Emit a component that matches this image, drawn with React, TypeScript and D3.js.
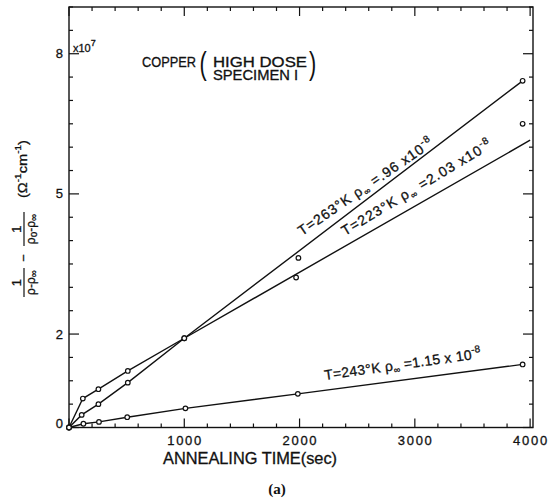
import React from 'react';
import * as d3 from 'd3';

// Annealing of copper, high dose specimen I: 1/(rho-rho_inf) - 1/(rho0-rho_inf) vs time
const times263 = [0, 110, 255, 510, 1000, 1990, 3935];
const values263 = [0, 0.27, 0.5, 0.96, 1.91, 3.63, 7.42];
const fitTimes263 = [0, 110, 255, 510, 1000, 3935];
const fitValues263 = [0, 0.27, 0.5, 0.96, 1.91, 7.42];

const times223 = [0, 120, 255, 510, 1000, 1970, 3935];
const values223 = [0, 0.62, 0.82, 1.21, 1.91, 3.21, 6.5];
const fitTimes223 = [0, 120, 255, 510, 1000, 4000];
const fitValues223 = [0, 0.62, 0.82, 1.21, 1.91, 6.15];

const times243 = [0, 125, 260, 505, 1010, 1985, 3935];
const values243 = [0, 0.08, 0.12, 0.22, 0.41, 0.72, 1.35];

const xTickLabels = [1000, 2000, 3000, 4000];
const yTickLabels = [0, 2, 5, 8];
const yMajorTicks = [0, 2, 5, 8];

const FONT = '"Liberation Sans", Arial, sans-serif';

const x = d3.scaleLinear().domain([0, 4025]).range([69, 533]);
const y = d3.scaleLinear().domain([0, 9]).range([427.5, 7]);

const zip = (ts: number[], vs: number[]) => ts.map((t, i) => [t, vs[i]] as [number, number]);

const line = d3
  .line<[number, number]>()
  .x((d) => x(d[0]))
  .y((d) => y(d[1]));

export default function App() {
  const [x0, x1] = x.range();
  const [yb, yt] = y.range();
  const xTicks = d3.range(0, 4001, 200);
  const yTicks = d3.range(0, 9.01, 0.5);

  const series = [
    { pts: zip(times263, values263), fit: zip(fitTimes263, fitValues263) },
    { pts: zip(times223, values223), fit: zip(fitTimes223, fitValues223) },
    { pts: zip(times243, values243), fit: zip(times243, values243) },
  ];

  const ink = { fill: '#111', stroke: '#111', strokeWidth: 0.3 };

  return (
    <svg
      width={556}
      height={504}
      style={{ position: 'absolute', left: 0, top: 0, background: '#fff' }}
      fontFamily={FONT}
    >
      <rect x={0} y={0} width={556} height={504} fill="#fff" />

      {/* frame */}
      <rect x={x0} y={yt} width={x1 - x0} height={yb - yt} fill="none" stroke="#111" strokeWidth={1.4} />

      {/* x ticks, bottom and top, pointing inward */}
      {xTicks.map((t) => {
        const len = t % 1000 === 0 ? 9 : 4;
        return (
          <g key={'xt' + t} stroke="#111" strokeWidth={1.2}>
            <line x1={x(t)} x2={x(t)} y1={yb} y2={yb - len} />
            <line x1={x(t)} x2={x(t)} y1={yt} y2={yt + len} />
          </g>
        );
      })}

      {/* y ticks, left and right, pointing inward */}
      {yTicks.map((v) => {
        const len = yMajorTicks.includes(v) ? 10 : 4;
        return (
          <g key={'yt' + v} stroke="#111" strokeWidth={1.2}>
            <line x1={x0} x2={x0 + len} y1={y(v)} y2={y(v)} />
            <line x1={x1} x2={x1 - len} y1={y(v)} y2={y(v)} />
          </g>
        );
      })}

      {/* tick labels */}
      <g {...ink}>
        {xTickLabels.map((t) => (
          <text key={'xl' + t} x={x(t)} y={444.5} fontSize={13} textAnchor="middle" textLength={34} lengthAdjust="spacing">
            {t}
          </text>
        ))}
        {yTickLabels.map((v) => (
          <text key={'yl' + v} x={63} y={y(v) + (v === 0 ? 0.5 : 4.5)} fontSize={13} textAnchor="end">
            {v}
          </text>
        ))}

        {/* exponent */}
        <text x={73} y={52} fontSize={11}>
          x10
          <tspan dy={-6} fontSize={9}>7</tspan>
        </text>

        {/* x axis title */}
        <text x={163} y={464} fontSize={16} textLength={174} lengthAdjust="spacingAndGlyphs">
          ANNEALING TIME(sec)
        </text>
      </g>

      {/* y axis title */}
      <g transform="translate(24,297) rotate(-90)" {...ink}>
        <line x1={0} x2={29} y1={0} y2={0} stroke="#111" strokeWidth={1.2} />
        <text x={14.5} y={-3} fontSize={13} textAnchor="middle">1</text>
        <text x={14.5} y={10.5} fontSize={12} textAnchor="middle">
          ρ-ρ<tspan dy={2} fontSize={10}>∞</tspan>
        </text>
        <text x={39} y={4} fontSize={13} textAnchor="middle">−</text>
        <line x1={51} x2={85} y1={0} y2={0} stroke="#111" strokeWidth={1.2} />
        <text x={68} y={-3} fontSize={13} textAnchor="middle">1</text>
        <text x={68} y={10.5} fontSize={12} textAnchor="middle">
          ρ<tspan dy={2} fontSize={10}>o</tspan>
          <tspan dy={-2}>-ρ</tspan>
          <tspan dy={2} fontSize={10}>∞</tspan>
        </text>
        <text x={99} y={3} fontSize={13} textLength={58} lengthAdjust="spacingAndGlyphs">
          (Ω<tspan dy={-6} fontSize={9}>-1</tspan>
          <tspan dy={6}>cm</tspan>
          <tspan dy={-6} fontSize={9}>-1</tspan>
          <tspan dy={6}>)</tspan>
        </text>
      </g>

      {/* specimen title */}
      <g {...ink}>
        <text x={142} y={67} fontSize={15} textLength={54} lengthAdjust="spacingAndGlyphs">COPPER</text>
        <text x={0} y={0} fontSize={31} strokeWidth={0} transform="translate(199.5,74) scale(0.7,1)">(</text>
        <text x={213} y={66.5} fontSize={14} textLength={94} lengthAdjust="spacingAndGlyphs">HIGH DOSE</text>
        <text x={213} y={79.5} fontSize={14} textLength={85} lengthAdjust="spacingAndGlyphs">SPECIMEN I</text>
        <text x={0} y={0} fontSize={31} strokeWidth={0} transform="translate(309,74) scale(0.7,1)">)</text>
      </g>

      {/* curves */}
      {series.map((s, i) => (
        <path key={'c' + i} d={line(s.fit) ?? ''} fill="none" stroke="#111" strokeWidth={1.4} />
      ))}

      {/* data points */}
      {series.map((s, i) =>
        s.pts.map((p, j) => (
          <circle key={'p' + i + '-' + j} cx={x(p[0])} cy={y(p[1])} r={2.3} fill="#fff" stroke="#111" strokeWidth={1.2} />
        ))
      )}

      {/* curve labels */}
      <g {...ink}>
        <text transform="translate(302,236) rotate(-34.5)" fontSize={14} textLength={160} lengthAdjust="spacing">
          T=263°K  ρ<tspan dy={3} fontSize={9}>∞</tspan>
          <tspan dy={-3}> =.96 x10</tspan>
          <tspan dy={-6} fontSize={10}>-8</tspan>
        </text>
        <text transform="translate(345,236) rotate(-31)" fontSize={14} textLength={172} lengthAdjust="spacing">
          T=223°K  ρ<tspan dy={3} fontSize={9}>∞</tspan>
          <tspan dy={-3}> =2.03 x10</tspan>
          <tspan dy={-6} fontSize={10}>-8</tspan>
        </text>
        <text transform="translate(325,380) rotate(-8)" fontSize={14} textLength={158} lengthAdjust="spacing">
          T=243°K  ρ<tspan dy={3} fontSize={9}>∞</tspan>
          <tspan dy={-3}> =1.15 x 10</tspan>
          <tspan dy={-6} fontSize={10}>-8</tspan>
        </text>
      </g>

      {/* panel tag */}
      <text x={277} y={494} fontSize={15} fontWeight="bold" textAnchor="middle" fontFamily='"Liberation Serif", "DejaVu Serif", serif' fill="#111">
        (a)
      </text>
    </svg>
  );
}
